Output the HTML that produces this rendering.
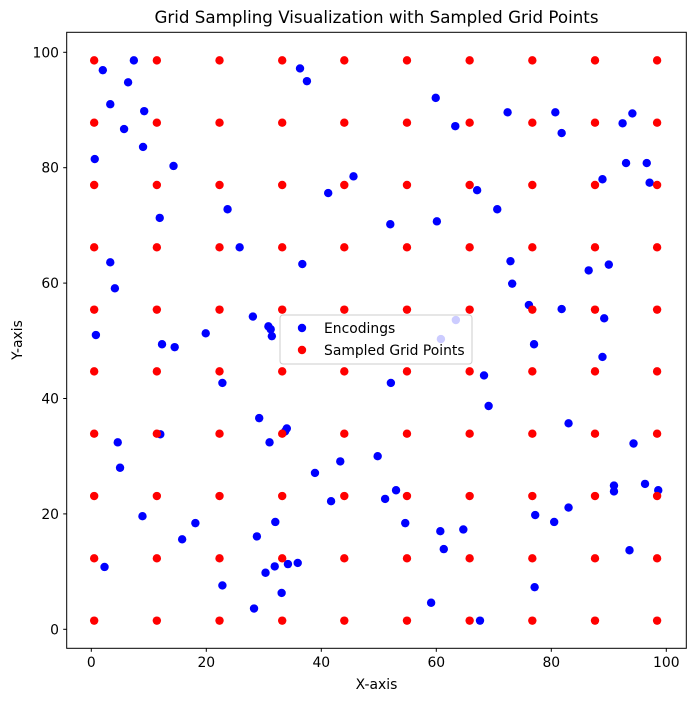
<!DOCTYPE html>
<html><head><meta charset="utf-8"><style>
body{margin:0;background:#fff}
svg{display:block;font-family:"DejaVu Sans","Liberation Sans",sans-serif}
</style></head><body>
<svg id="chart" width="695" height="701">
<rect width="695" height="701" fill="#fff"/>
<g id="marks"></g>
<rect x="66.7" y="32.3" width="619.6" height="616" fill="none" stroke="#000" stroke-width="1"/>
<g id="xticks" font-size="13.9" text-anchor="middle"></g>
<g id="yticks" font-size="13.9" text-anchor="end"></g>
<text x="376.5" y="23" font-size="16.7" text-anchor="middle">Grid Sampling Visualization with Sampled Grid Points</text>
<text x="376.5" y="689" font-size="13.9" text-anchor="middle">X-axis</text>
<text x="0" y="0" font-size="13.9" text-anchor="middle" transform="translate(22,340) rotate(-90)">Y-axis</text>
<g>
<rect x="280" y="315" width="192" height="49" rx="3" fill="#fff" fill-opacity="0.8" stroke="#ccc"/>
<g>
<circle cx="302" cy="328" r="4.2" fill="#00f"/>
<text x="324" y="333" font-size="13.9">Encodings</text></g>
<g>
<circle cx="302" cy="350" r="4.2" fill="#f00"/>
<text x="324" y="355" font-size="13.9">Sampled Grid Points</text></g>
</g>
</svg>
<script>
const encX=[2.0,7.4,6.4,3.3,9.2,5.7,9.0,0.6,14.3,11.9,23.7,25.8,3.3,4.1,0.8,12.3,14.5,19.9,22.8,28.1,30.8,31.2,31.4,36.7,36.3,37.5,41.2,45.6,52.0,59.9,60.1,63.3,67.1,70.6,72.4,80.7,81.8,72.9,73.2,76.1,77.0,81.8,86.5,90.0,89.2,88.9,88.9,92.4,94.1,93.0,96.6,97.1,60.8,63.4,52.1,68.3,69.1,83.0,94.3,96.3,98.6,90.9,90.9,83.0,80.5,77.2,93.6,77.1,67.6,59.1,61.3,60.7,64.7,54.6,53.0,51.1,49.8,43.3,41.7,38.9,34.0,31.0,29.2,33.7,12.0,4.6,5.0,8.9,15.8,18.1,28.8,32.0,31.9,30.3,34.2,35.9,33.1,28.3,22.8,2.3];
const encY=[96.9,98.6,94.8,91.0,89.8,86.7,83.6,81.5,80.3,71.3,72.8,66.2,63.6,59.1,51.0,49.4,48.9,51.3,42.7,54.2,52.5,52.0,50.8,63.3,97.2,95.0,75.6,78.5,70.2,92.1,70.7,87.2,76.1,72.8,89.6,89.6,86.0,63.8,59.9,56.2,49.4,55.5,62.2,63.2,53.9,47.2,78.0,87.7,89.4,80.8,80.8,77.4,50.3,53.6,42.7,44.0,38.7,35.7,32.2,25.2,24.1,24.9,23.9,21.1,18.6,19.8,13.7,7.3,1.5,4.6,13.9,17.0,17.3,18.4,24.1,22.6,30.0,29.1,22.2,27.1,34.8,32.4,36.6,34.3,33.8,32.4,28.0,19.6,15.6,18.4,16.1,18.6,10.9,9.8,11.3,11.5,6.3,3.6,7.6,10.8];
const gridXs=[0.5,11.4,22.3,33.2,44.0,54.9,65.8,76.7,87.6,98.4];
const gridYs=[1.5,12.3,23.1,33.9,44.7,55.4,66.2,77.0,87.8,98.6];
const xTicks=[0,20,40,60,80,100];
const yTicks=[0,20,40,60,80,100];
const NS="http://www.w3.org/2000/svg";
function sx(v){return 91.3+v*5.75;}
function sy(v){return 629.3-v*5.77;}
const marks=document.getElementById('marks');
for(let i=0;i<encX.length;i++){
const c=document.createElementNS(NS,'circle');
c.setAttribute('cx',sx(encX[i]));c.setAttribute('cy',sy(encY[i]));c.setAttribute('r',4.2);c.setAttribute('fill','#00f');


marks.appendChild(c);}
for(const gy of gridYs){for(const gx of gridXs){
const c=document.createElementNS(NS,'circle');
c.setAttribute('cx',sx(gx));c.setAttribute('cy',sy(gy));c.setAttribute('r',4.2);c.setAttribute('fill','#f00');


marks.appendChild(c);}}
const xt=document.getElementById('xticks');
for(const t of xTicks){
const l=document.createElementNS(NS,'line');
l.setAttribute('x1',sx(t));l.setAttribute('x2',sx(t));l.setAttribute('y1',648.3);l.setAttribute('y2',651.8);l.setAttribute('stroke','#000');


xt.appendChild(l);
const s=document.createElementNS(NS,'text');
s.setAttribute('x',sx(t));s.setAttribute('y',667);s.textContent=t;


xt.appendChild(s);}
const yt=document.getElementById('yticks');
for(const t of yTicks){
const l=document.createElementNS(NS,'line');
l.setAttribute('x1',63.2);l.setAttribute('x2',66.7);l.setAttribute('y1',sy(t));l.setAttribute('y2',sy(t));l.setAttribute('stroke','#000');


yt.appendChild(l);
const s=document.createElementNS(NS,'text');
s.setAttribute('x',59);s.setAttribute('y',sy(t)+5);s.textContent=t;


yt.appendChild(s);}
</script>
</body></html>
